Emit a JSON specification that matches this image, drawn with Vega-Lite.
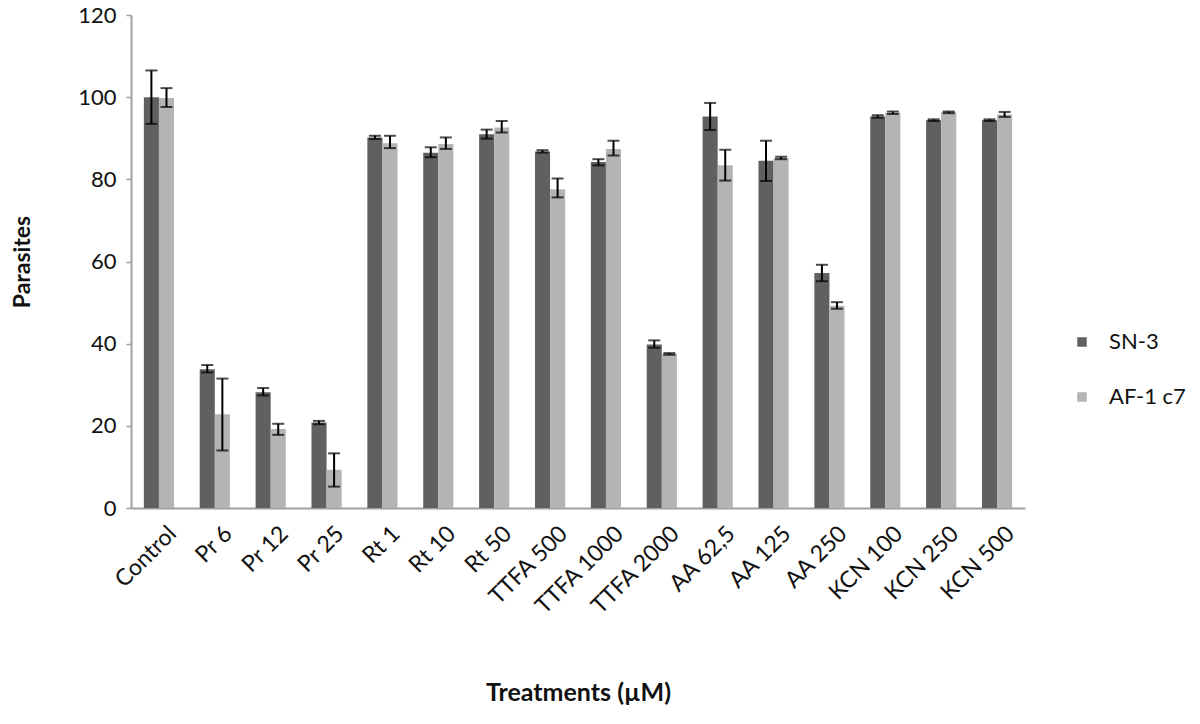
{
  "$schema": "https://vega.github.io/schema/vega-lite/v6.json",
  "autosize": {"type": "none"},
  "padding": {"left": 131, "top": 15, "right": 175, "bottom": 216},
  "width": 894,
  "height": 493,
  "background": "white",
  "config": {
    "view": {"stroke": null},
    "font": "Lato"
  },
  "data": {
    "values": [
      {"treatment": "Control", "strain": "SN-3", "value": 100, "lo": 93.5, "hi": 106.5},
      {"treatment": "Control", "strain": "AF-1 c7", "value": 99.8, "lo": 97.6, "hi": 102.2},
      {"treatment": "Pr 6", "strain": "SN-3", "value": 33.8, "lo": 33.0, "hi": 34.8},
      {"treatment": "Pr 6", "strain": "AF-1 c7", "value": 22.8, "lo": 14.0, "hi": 31.5},
      {"treatment": "Pr 12", "strain": "SN-3", "value": 28.2, "lo": 27.4, "hi": 29.2},
      {"treatment": "Pr 12", "strain": "AF-1 c7", "value": 19.2, "lo": 17.8, "hi": 20.5},
      {"treatment": "Pr 25", "strain": "SN-3", "value": 20.8, "lo": 20.4, "hi": 21.2},
      {"treatment": "Pr 25", "strain": "AF-1 c7", "value": 9.3, "lo": 5.2, "hi": 13.3},
      {"treatment": "Rt 1", "strain": "SN-3", "value": 90.2, "lo": 89.8, "hi": 90.6},
      {"treatment": "Rt 1", "strain": "AF-1 c7", "value": 88.8, "lo": 87.6, "hi": 90.6},
      {"treatment": "Rt 10", "strain": "SN-3", "value": 86.5, "lo": 85.4, "hi": 87.8},
      {"treatment": "Rt 10", "strain": "AF-1 c7", "value": 88.6, "lo": 87.4, "hi": 90.2},
      {"treatment": "Rt 50", "strain": "SN-3", "value": 91.0, "lo": 89.9, "hi": 92.1},
      {"treatment": "Rt 50", "strain": "AF-1 c7", "value": 92.6, "lo": 91.4, "hi": 94.2},
      {"treatment": "TTFA 500", "strain": "SN-3", "value": 86.8, "lo": 86.5, "hi": 87.1},
      {"treatment": "TTFA 500", "strain": "AF-1 c7", "value": 77.6, "lo": 75.6, "hi": 80.2},
      {"treatment": "TTFA 1000", "strain": "SN-3", "value": 84.2, "lo": 83.4, "hi": 84.9},
      {"treatment": "TTFA 1000", "strain": "AF-1 c7", "value": 87.4, "lo": 85.8, "hi": 89.4},
      {"treatment": "TTFA 2000", "strain": "SN-3", "value": 39.8, "lo": 39.0, "hi": 40.8},
      {"treatment": "TTFA 2000", "strain": "AF-1 c7", "value": 37.5, "lo": 37.3, "hi": 37.7},
      {"treatment": "AA 62,5", "strain": "SN-3", "value": 95.3, "lo": 92.0, "hi": 98.6},
      {"treatment": "AA 62,5", "strain": "AF-1 c7", "value": 83.4, "lo": 79.7, "hi": 87.2},
      {"treatment": "AA 125", "strain": "SN-3", "value": 84.5, "lo": 79.6, "hi": 89.4},
      {"treatment": "AA 125", "strain": "AF-1 c7", "value": 85.2, "lo": 84.9, "hi": 85.5},
      {"treatment": "AA 250", "strain": "SN-3", "value": 57.2, "lo": 55.2, "hi": 59.2},
      {"treatment": "AA 250", "strain": "AF-1 c7", "value": 49.2, "lo": 48.5, "hi": 50.1},
      {"treatment": "KCN 100", "strain": "SN-3", "value": 95.3, "lo": 95.0, "hi": 95.6},
      {"treatment": "KCN 100", "strain": "AF-1 c7", "value": 96.2, "lo": 95.9, "hi": 96.5},
      {"treatment": "KCN 250", "strain": "SN-3", "value": 94.4, "lo": 94.2, "hi": 94.6},
      {"treatment": "KCN 250", "strain": "AF-1 c7", "value": 96.3, "lo": 96.1, "hi": 96.5},
      {"treatment": "KCN 500", "strain": "SN-3", "value": 94.4, "lo": 94.2, "hi": 94.6},
      {"treatment": "KCN 500", "strain": "AF-1 c7", "value": 95.8, "lo": 95.2, "hi": 96.4}
    ]
  },
  "encoding": {
    "x": {
      "field": "treatment",
      "type": "nominal",
      "sort": ["Control", "Pr 6", "Pr 12", "Pr 25", "Rt 1", "Rt 10", "Rt 50", "TTFA 500", "TTFA 1000", "TTFA 2000", "AA 62,5", "AA 125", "AA 250", "KCN 100", "KCN 250", "KCN 500"],
      "scale": {"paddingInner": 0.46, "paddingOuter": 0.23},
      "axis": {
        "title": "Treatments (µM)",
        "titleFont": "Lato",
        "titleFontSize": 25,
        "titleFontWeight": "bold",
        "titleColor": "#111111",
        "titleBaseline": "middle",
        "titleY": 184,
        "labelAngle": -45,
        "labelFontSize": 23,
        "labelColor": "#111111",
        "labelPadding": 14,
        "labelOffset": 6,
        "ticks": false,
        "domainColor": "#a0a0a0",
        "domainWidth": 2,
        "grid": false
      }
    },
    "xOffset": {"field": "strain", "type": "nominal", "sort": ["SN-3", "AF-1 c7"]}
  },
  "layer": [
    {
      "mark": {"type": "bar"},
      "encoding": {
        "y": {
          "field": "value",
          "type": "quantitative",
          "scale": {"domain": [0, 120], "nice": false},
          "axis": {
            "title": "Parasites",
            "titleFont": "Lato",
            "titleFontSize": 23,
            "titleFontWeight": "bold",
            "titleColor": "#111111",
            "titleAngle": -90,
            "titleBaseline": "middle",
            "titleX": -109,
            "values": [0, 20, 40, 60, 80, 100, 120],
            "labelFontSize": 22,
            "labelColor": "#111111",
            "labelPadding": 10,
            "tickSize": 5,
            "tickColor": "#a0a0a0",
            "tickWidth": 1.5,
            "domainColor": "#a0a0a0",
            "domainWidth": 2,
            "grid": false
          }
        },
        "color": {
          "field": "strain",
          "type": "nominal",
          "sort": ["SN-3", "AF-1 c7"],
          "scale": {"domain": ["SN-3", "AF-1 c7"], "range": ["#606060", "#b4b4b4"]},
          "legend": {
            "title": null,
            "orient": "none",
            "legendX": 940,
            "legendY": 316,
            "symbolType": "square",
            "symbolSize": 90,
            "symbolStrokeWidth": 0,
            "labelFont": "Lato",
            "labelFontSize": 22,
            "labelColor": "#111111",
            "labelOffset": 16,
            "rowPadding": 33
          }
        }
      }
    },
    {
      "mark": {"type": "rule", "color": "#000000", "strokeWidth": 2},
      "encoding": {
        "y": {"field": "lo", "type": "quantitative"},
        "y2": {"field": "hi"}
      }
    },
    {
      "mark": {"type": "tick", "color": "#000000", "thickness": 2, "size": 12, "orient": "horizontal"},
      "encoding": {
        "y": {"field": "lo", "type": "quantitative"}
      }
    },
    {
      "mark": {"type": "tick", "color": "#000000", "thickness": 2, "size": 12, "orient": "horizontal"},
      "encoding": {
        "y": {"field": "hi", "type": "quantitative"}
      }
    }
  ]
}
